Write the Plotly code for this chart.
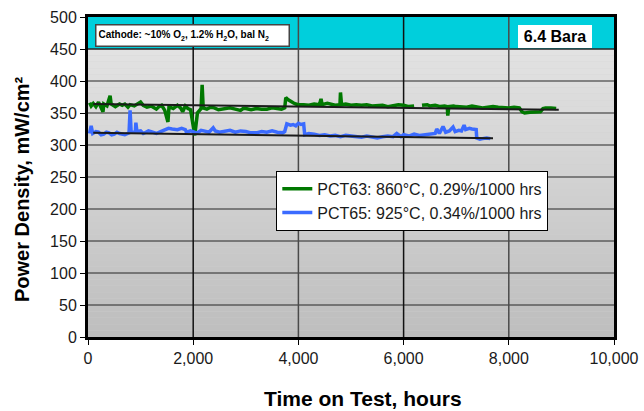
import plotly.graph_objects as go

# PCT63 power density history (hours, mW/cm2)
pct63_hours = [30, 60, 100, 150, 200, 250, 285, 300, 360, 420, 440, 520, 600, 650, 700, 760,
               800, 880, 950, 1000, 1050, 1120, 1200, 1260, 1300, 1350, 1400, 1460, 1520, 1540,
               1620, 1700, 1760, 1800, 1850, 1900, 1950, 2030, 2080, 2150, 2170, 2190, 2260,
               2330, 2400, 2480, 2600, 2700, 2800, 2900, 2950, 3000, 3100, 3200, 3300, 3400,
               3500, 3600, 3680, 3740, 3760, 3800, 3850, 3900, 3950, 4000, 4100, 4200, 4300,
               4400, 4430, 4450, 4550, 4600, 4700, 4790, 4800, 4820, 4900, 5000, 5100, 5200,
               5300, 5400, 5500, 5600, 5700, 5800, 5900, 6000, 6100, 6200, 6280,
               6350, 6450, 6500, 6600, 6700, 6780, 6830, 6840, 6860, 6950, 7000, 7100, 7200,
               7300, 7400, 7500, 7600, 7700, 7800, 7900, 8000, 8100, 8200,
               8250, 8300, 8400, 8500, 8600, 8650, 8700, 8800, 8900]
pct63_power = [366, 361, 365, 360, 367, 359, 352, 364, 361, 377, 364, 360, 364, 362, 364, 359,
               363, 361, 365, 367, 362, 359, 361, 357, 356, 360, 362, 354, 336, 360,
               357, 362, 358, 352, 361, 357, 355, 315, 350, 357, 394, 358, 356,
               359, 358, 355, 357, 358, 356, 354, 357, 357, 355, 357, 356, 356,
               358, 357, 356, 358, 374, 371, 368, 366, 364, 363, 363, 362, 364,
               363, 372, 363, 365, 364, 362, 363, 382, 363, 364, 362, 363, 362,
               363, 361, 362, 362, 360, 361, 363, 362, 360, 361, None,
               362, 363, 361, 362, 360, 361, 360, 346, 360, 361, 360, 359, 359,
               361, 360, 358, 359, 360, 359, 358, 358, 359, 358,
               352, 350, 351, 352, 352, 357, 358, 358, 357]

# PCT65 power density history (hours, mW/cm2)
pct65_hours = [30, 60, 90, 150, 200, 250, 300, 350, 400, 450, 500, 550, 600, 700, 780, 800, 820,
               900, 910, 930, 1000, 1050, 1100, 1150, 1200, 1250, 1300, 1380, 1460, 1530, 1600,
               1700, 1780, 1850, 1870, 1950, 2000, 2050, 2100, 2150, 2200, 2300, 2380, 2420,
               2500, 2600, 2700, 2800, 2900, 3000, 3100, 3200, 3300, 3400, 3500, 3600, 3700,
               3740, 3780, 3850, 3900, 3950, 4000, 4050, 4100, 4120, 4200, 4300, 4400, 4500,
               4600, 4700, 4800, 4900, 5000, 5100, 5200, 5300, 5400, 5500, 5600, 5700, 5800,
               5870, 5950, 6000, 6100, 6200, 6300, 6400, 6500, 6600, 6630, 6680, 6750, 6800,
               6870, 6940, 6980, 7050, 7100, 7150, 7180, 7250, 7300, 7380, 7390, 7450, 7500,
               7580, 7650]
pct65_power = [318, 330, 318, 321, 320, 316, 317, 320, 319, 316, 317, 320, 318, 316, 319, 354, 320,
               320, 335, 321, 322, 318, 320, 322, 321, 319, 318, 321, 324, 326, 325,
               324, 326, 324, 320, 322, 321, 319, 320, 323, 322, 320, 327, 322,
               320, 321, 323, 320, 322, 321, 319, 319, 321, 320, 322, 320, 319,
               321, 333, 331, 332, 330, 334, 332, 333, 316, 318, 317, 315, 316,
               314, 315, 313, 315, 314, 312, 312, 314, 313, 311, 313, 314, 313,
               318, 313, 316, 314, 317, 315, 316, 318, 318, 325, 318, 329, 320,
               322, 328, 321, 323, 322, 331, 324, 326, 325, 324, 311, 309, 310,
               311, 310]

# Linear degradation fits (start/end hours and values)
fit63_hours = [100, 8950]
fit63_power = [364, 355]
fit65_hours = [100, 7700]
fit65_power = [319, 310.5]

legend_names = ["PCT63: 860°C, 0.29%/1000 hrs", "PCT65: 925°C, 0.34%/1000 hrs"]
x_ticks = [0, 2000, 4000, 6000, 8000, 10000]
y_ticks = list(range(0, 501, 50))

FONT = "Liberation Sans, Arial, sans-serif"

fig = go.Figure()
fig.add_trace(go.Scatter(x=pct63_hours, y=pct63_power, mode="lines", name=legend_names[0],
                         line=dict(color="#007800", width=3.5), connectgaps=False))
fig.add_trace(go.Scatter(x=pct65_hours, y=pct65_power, mode="lines", name=legend_names[1],
                         line=dict(color="#3b6bff", width=3.5)))
fig.add_trace(go.Scatter(x=fit63_hours, y=fit63_power, mode="lines", showlegend=False,
                         line=dict(color="#1a1a1a", width=2)))
fig.add_trace(go.Scatter(x=fit65_hours, y=fit65_power, mode="lines", showlegend=False,
                         line=dict(color="#1a1a1a", width=2)))

shapes = []
# Vertical grey gradient behind the data region
n_bands = 45
top_rgb = (0xE2, 0xE2, 0xE2)
bot_rgb = (0xBE, 0xBE, 0xBE)
for i in range(n_bands):
    t = i / (n_bands - 1)
    c = tuple(round(bot_rgb[k] + (top_rgb[k] - bot_rgb[k]) * t) for k in range(3))
    shapes.append(dict(type="rect", xref="x", yref="y", x0=0, x1=10000,
                       y0=450 * i / n_bands, y1=450 * (i + 1) / n_bands,
                       fillcolor="rgb(%d,%d,%d)" % c, line=dict(width=0), layer="below"))
# Cyan header band
shapes.append(dict(type="rect", xref="x", yref="y", x0=0, x1=10000, y0=450, y1=500,
                   fillcolor="#00cfdc", line=dict(width=0), layer="below"))
# Grid lines
for yv in y_ticks[1:-1]:
    shapes.append(dict(type="line", xref="x", yref="y", x0=0, x1=10000, y0=yv, y1=yv,
                       line=dict(color="#262626", width=1.5 if yv == 450 else 1.2), layer="below"))
for xv, col in zip([2000, 4000, 6000, 8000], ["#111111", "#4a4a4a", "#111111", "#4a4a4a"]):
    shapes.append(dict(type="line", xref="x", yref="y", x0=xv, x1=xv, y0=0, y1=500,
                       line=dict(color=col, width=1.5), layer="below"))

fig.update_layout(
    width=644, height=411,
    margin=dict(l=88, r=30, t=17, b=74),
    paper_bgcolor="white",
    plot_bgcolor="#d0d0d0",
    font=dict(family=FONT, color="#1a1a1a", size=16),
    shapes=shapes,
    showlegend=True,
    legend=dict(x=0.358, y=0.519, xanchor="left", yanchor="top",
                bgcolor="white", bordercolor="black", borderwidth=1,
                font=dict(family=FONT, size=16, color="#1a1a1a"),
                tracegroupgap=0, itemwidth=30),
    xaxis=dict(range=[0, 10000], tickvals=x_ticks, tickformat=",d",
               showgrid=False, zeroline=False, automargin=False,
               showline=True, linecolor="black", linewidth=3, mirror=True,
               ticks="outside", ticklen=5, tickcolor="black", tickwidth=1,
               tickfont=dict(size=16, family=FONT, color="#1a1a1a")),
    yaxis=dict(range=[0, 500], tickvals=y_ticks,
               showgrid=False, zeroline=False, automargin=False,
               showline=True, linecolor="black", linewidth=3, mirror=True,
               ticks="outside", ticklen=5, tickcolor="black", tickwidth=1,
               tickfont=dict(size=16, family=FONT, color="#1a1a1a")),
    annotations=[
        # Axis titles
        dict(xref="paper", yref="paper", x=(363 - 88) / 526, y=(337 - 398) / 320,
             xanchor="center", yanchor="middle", showarrow=False,
             text="<b>Time on Test, hours</b>", font=dict(size=21, family=FONT, color="black")),
        dict(xref="paper", yref="paper", x=(22 - 88) / 526, y=(337 - 189) / 320,
             xanchor="center", yanchor="middle", showarrow=False, textangle=-90,
             text="<b>Power Density, mW/cm²</b>", font=dict(size=20, family=FONT, color="black")),
        # Boxed notes in the header band
        dict(xref="paper", yref="paper", x=0.0135, y=0.978, xanchor="left", yanchor="top",
             text="<b>Cathode: ~10% O<sub>2</sub>, 1.2% H<sub>2</sub>O, bal N<sub>2</sub></b>",
             showarrow=False, font=dict(size=10, family=FONT, color="black"),
             bgcolor="white", bordercolor="#444444", borderwidth=1.5, borderpad=2,
             width=188, height=16, align="left"),
        dict(xref="paper", yref="paper", x=0.8175, y=0.975, xanchor="left", yanchor="top",
             text="<b>6.4 Bara</b>", showarrow=False,
             font=dict(size=16, family=FONT, color="black"),
             bgcolor="white", borderwidth=0, borderpad=1, width=72, height=21),
    ],
)

fig.write_html("out.html")
